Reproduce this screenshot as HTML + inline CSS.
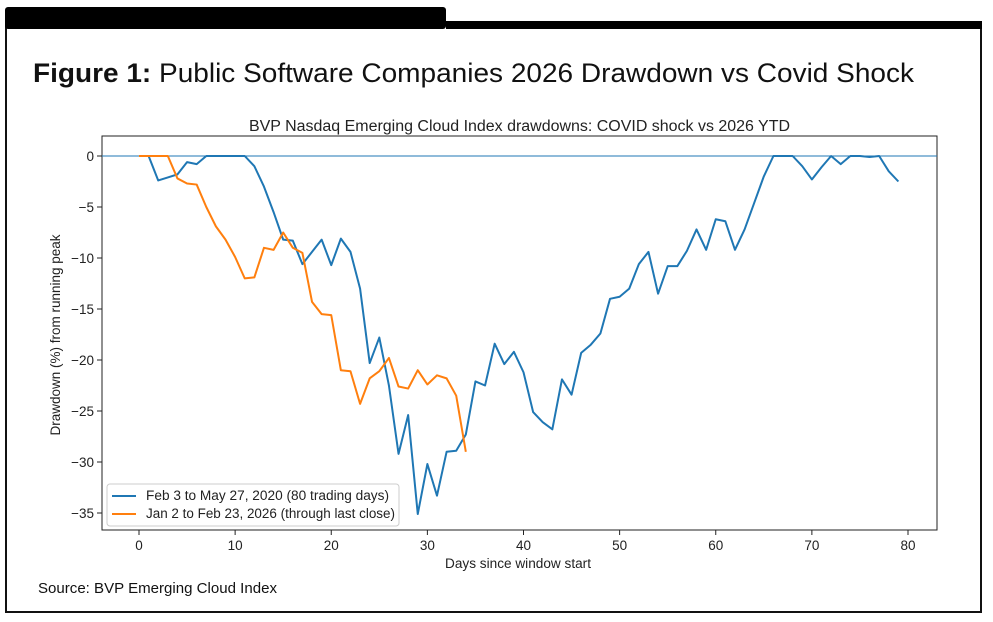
<!DOCTYPE html>
<html><head><meta charset="utf-8"><style>
html,body{margin:0;padding:0;background:#fff;width:993px;height:622px;overflow:hidden}
svg{display:block;font-family:"Liberation Sans","DejaVu Sans",sans-serif}
</style></head><body>
<svg id="chart" width="993" height="622" viewBox="0 0 993 622">
<rect x="6" y="22" width="975" height="590" fill="#fff" stroke="#111" stroke-width="2"/>
<rect x="5" y="7" width="441" height="22" rx="3" fill="#000"/>
<rect x="446" y="21" width="536" height="8" fill="#000"/>
<text x="33" y="82" font-size="27" fill="#111" textLength="881" lengthAdjust="spacingAndGlyphs"><tspan font-weight="bold">Figure 1:</tspan> Public Software Companies 2026 Drawdown vs Covid Shock</text>
<text x="249" y="131" font-size="15.5" fill="#222" textLength="541" lengthAdjust="spacingAndGlyphs">BVP Nasdaq Emerging Cloud Index drawdowns: COVID shock vs 2026 YTD</text>
<rect x="102" y="136" width="835" height="394" fill="none" stroke="#222" stroke-width="1"/>
<g id="xticks"></g><g id="yticks"></g><g id="series"></g>
<text x="445" y="568" font-size="13.5" fill="#222" textLength="146" lengthAdjust="spacingAndGlyphs">Days since window start</text>
<text transform="translate(60,335) rotate(-90)" font-size="13.5" fill="#222" text-anchor="middle">Drawdown (%) from running peak</text>
<g>
<rect x="107" y="484" width="292" height="42" rx="3" fill="#fff" stroke="#ccc"/>
<line x1="112" y1="496" x2="136" y2="496" stroke="#1f77b4" stroke-width="2"/>
<text x="146" y="500" font-size="13.5" fill="#222" textLength="243" lengthAdjust="spacingAndGlyphs">Feb 3 to May 27, 2020 (80 trading days)</text>
<line x1="112" y1="514" x2="136" y2="514" stroke="#ff7f0e" stroke-width="2"/>
<text x="146" y="518" font-size="13.5" fill="#222" textLength="249" lengthAdjust="spacingAndGlyphs">Jan 2 to Feb 23, 2026 (through last close)</text>
</g>
<text x="38" y="593" font-size="15" fill="#111" textLength="239" lengthAdjust="spacingAndGlyphs">Source: BVP Emerging Cloud Index</text>
</svg>
<script>
const xTickValues=[0,10,20,30,40,50,60,70,80];
const yTickValues=[0,-5,-10,-15,-20,-25,-30,-35];
const covid2020=[0,0,-2.4,-2.1,-1.8,-0.6,-0.8,0,0,0,0,0,-1,-3,-5.5,-8.2,-8.3,-10.6,-9.4,-8.2,-10.7,-8.1,-9.4,-13,-20.3,-17.8,-22.5,-29.2,-25.4,-35.1,-30.2,-33.3,-29,-28.9,-27.3,-22.1,-22.5,-18.4,-20.4,-19.2,-21.2,-25.1,-26.1,-26.8,-21.9,-23.4,-19.3,-18.5,-17.4,-14,-13.8,-13,-10.6,-9.4,-13.5,-10.8,-10.8,-9.3,-7.2,-9.2,-6.2,-6.4,-9.2,-7.2,-4.6,-2,0,0,0,-1,-2.3,-1.1,0,-0.8,0,0,-0.1,0,-1.5,-2.5];
const ytd2026=[0,0,0,0,-2.2,-2.7,-2.8,-5,-6.9,-8.2,-9.9,-12,-11.9,-9,-9.2,-7.5,-9,-9.5,-14.3,-15.5,-15.6,-21,-21.1,-24.3,-21.8,-21.1,-19.8,-22.6,-22.8,-21,-22.4,-21.5,-21.8,-23.5,-29];
const NS="http://www.w3.org/2000/svg";
const X=v=>139+v*(908-139)/80;
const Y=v=>156+v*(513-156)/(-35);
function mk(tag,attrs,parent){const e=document.createElementNS(NS,tag);for(const k in attrs)e.setAttribute(k,attrs[k]);parent.appendChild(e);return e;}
const xg=document.getElementById('xticks'),yg=document.getElementById('yticks'),sg=document.getElementById('series');
xTickValues.forEach(v=>{
  const l=mk('line',{x1:X(v),x2:X(v),y1:530,y2:535,stroke:'#222'},xg);
  
  
  const t=mk('text',{x:X(v),y:550,'font-size':13.5,fill:'#222','text-anchor':'middle'},xg);t.textContent=v;
  
  
});
yTickValues.forEach(v=>{
  const l=mk('line',{x1:97,x2:102,y1:Y(v),y2:Y(v),stroke:'#222'},yg);
  
  
  const t=mk('text',{x:94,y:Y(v)+5,'font-size':13.5,fill:'#222','text-anchor':'end'},yg);t.textContent=v===0?'0':'\u2212'+Math.abs(v);
  
  
});
const zl=mk('line',{x1:102,x2:937,y1:Y(0),y2:Y(0),stroke:'#1f77b4','stroke-width':1},sg);


function line(arr,color,name){
  const p=mk('polyline',{points:arr.map((v,i)=>X(i)+','+Y(v)).join(' '),fill:'none',stroke:color,'stroke-width':2,'stroke-linejoin':'round'},sg);
  
  
}
line(covid2020,'#1f77b4','covid-2020-line');
line(ytd2026,'#ff7f0e','ytd-2026-line');
</script>
</body></html>
